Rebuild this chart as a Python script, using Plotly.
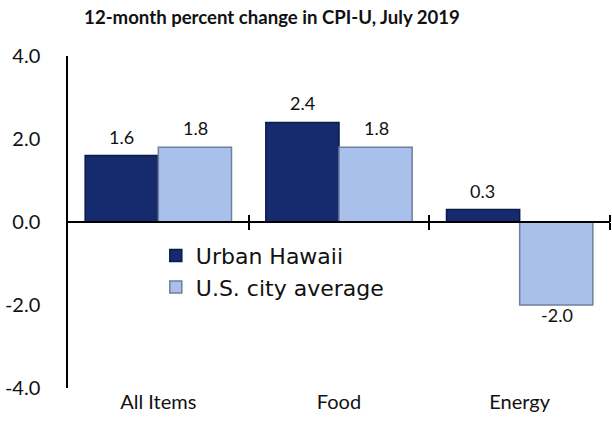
import plotly.graph_objects as go

categories = ["All Items", "Food", "Energy"]
urban_hawaii = [1.6, 2.4, 0.3]
us_city_average = [1.8, 1.8, -2.0]
y_ticks = [-4.0, -2.0, 0.0, 2.0, 4.0]
y_tick_text = ["-4.0", "-2.0", "0.0", "2.0", "4.0"]

navy = "#152b6e"
navy_edge = "#0b1a4d"
light = "#a9c0ea"
light_edge = "#6f7f9c"

fig = go.Figure()
fig.add_trace(go.Bar(
    name="Urban Hawaii", x=categories, y=urban_hawaii,
    marker=dict(color=navy, line=dict(color=navy_edge, width=1.5)),
))
fig.add_trace(go.Bar(
    name="U.S. city average", x=categories, y=us_city_average,
    marker=dict(color=light, line=dict(color=light_edge, width=1.5)),
))

# Value labels above positive bars and below negative ones
for series, shift in ((urban_hawaii, -37), (us_city_average, 37)):
    for cat, val in zip(categories, series):
        fig.add_annotation(
            x=cat, y=val, text=f"{val:.1f}",
            showarrow=False, xshift=shift, yshift=19 if val >= 0 else -10,
            yanchor="middle", font=dict(family="Lato", size=18, color="#111111"),
        )

# Invisible helper traces put the overlay axes into use so the zero line
# carries Excel-style cross tick marks between the categories.
for ax in ("x2", "x3"):
    fig.add_trace(go.Scatter(x=[-0.5, 2.5], y=[0, 0], xaxis=ax, mode="lines",
                             line=dict(width=0), hoverinfo="skip", showlegend=False))

fig.update_layout(
    width=612, height=430,
    margin=dict(l=68, r=2, t=56, b=42),
    paper_bgcolor="white", plot_bgcolor="white",
    barmode="group", bargap=0.19, bargroupgap=0,
    title=dict(text="<b>12-month percent change in CPI-U, July 2019</b>",
               x=272 / 612, xanchor="center", y=1 - 17 / 430, yanchor="middle",
               font=dict(family="Lato", size=18.6, color="#111111")),
    font=dict(family="Lato", color="#111111"),
    legend=dict(x=0.162, y=0.462, xanchor="left", yanchor="top",
                bgcolor="rgba(0,0,0,0)", tracegroupgap=0,
                font=dict(family="DejaVu Sans", size=22, color="#111111"),
                itemwidth=30),
    showlegend=True,
    xaxis=dict(type="category", showline=False, ticks="", showgrid=False,
               zeroline=False, tickfont=dict(family="Lato", size=20),
               range=[-0.5, 2.5]),
    xaxis2=dict(overlaying="x", anchor="free", position=0.5, range=[-0.5, 2.5],
                showline=True, linecolor="black", linewidth=1.5,
                tickvals=[0.5, 1.5, 2.5], ticks="outside", ticklen=7,
                tickcolor="black", tickwidth=1.5, showticklabels=False,
                showgrid=False, zeroline=False),
    xaxis3=dict(overlaying="x", anchor="free", position=0.5, range=[-0.5, 2.5],
                showline=False, side="top",
                tickvals=[0.5, 1.5, 2.5], ticks="outside", ticklen=7,
                tickcolor="black", tickwidth=1.5, showticklabels=False,
                showgrid=False, zeroline=False),
    yaxis=dict(range=[-4, 4], tickvals=y_ticks, ticktext=y_tick_text,
               showline=True, linecolor="black", linewidth=1.5,
               ticks="", showgrid=False, zeroline=False,
               ticklabelstandoff=22,
               tickfont=dict(family="Lato", size=20)),
)

fig.write_html("out.html")
